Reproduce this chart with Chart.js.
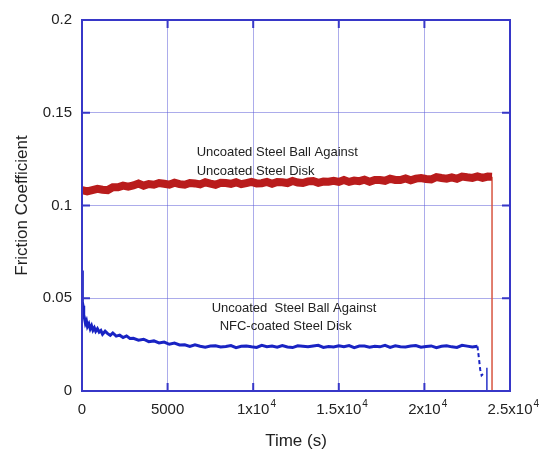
<!DOCTYPE html>
<html>
<head>
<meta charset="utf-8">
<script src="https://cdn.jsdelivr.net/npm/chart.js@4"></script>
<style>
  html, body { margin: 0; padding: 0; background: #fff; }
  #wrap { width: 540px; height: 452px; }
</style>
</head>
<body>
<div id="wrap"><canvas id="frictionChart" width="540" height="452"></canvas></div>
<script>
// friction coefficient vs time, two pin-on-disk runs
const steelTime = [0, 300, 600, 900, 1200, 1500, 1800, 2100, 2400, 2700, 3000, 3300, 3600, 3900, 4200, 4500, 4800, 5100, 5400, 5700,
  6000, 6300, 6600, 6900, 7200, 7500, 7800, 8100, 8400, 8700, 9000, 9300, 9600, 9900, 10200, 10500, 10800, 11100, 11400, 11700,
  12000, 12300, 12600, 12900, 13200, 13500, 13800, 14100, 14400, 14700, 15000, 15300, 15600, 15900, 16200, 16500, 16800, 17100, 17400, 17700,
  18000, 18300, 18600, 18900, 19200, 19500, 19800, 20100, 20400, 20700, 21000, 21300, 21600, 21900, 22200, 22500, 22800, 23100, 23400, 23700, 23950];
const steelFriction = [0.1083, 0.1076, 0.1083, 0.1090, 0.1085, 0.1083, 0.1098, 0.1098, 0.1107, 0.1102, 0.1108, 0.1118, 0.1107, 0.1116, 0.1112, 0.1121, 0.1117, 0.1112, 0.1123, 0.1115,
  0.1112, 0.1121, 0.1119, 0.1114, 0.1125, 0.1118, 0.1112, 0.1123, 0.1121, 0.1117, 0.1125, 0.1115, 0.1121, 0.1127, 0.1119, 0.1120, 0.1127, 0.1117, 0.1127, 0.1125,
  0.1121, 0.1132, 0.1124, 0.1121, 0.1130, 0.1132, 0.1122, 0.1129, 0.1128, 0.1133, 0.1127, 0.1137, 0.1127, 0.1134, 0.1131, 0.1139, 0.1128, 0.1138, 0.1137, 0.1133,
  0.1144, 0.1138, 0.1137, 0.1146, 0.1136, 0.1145, 0.1148, 0.1143, 0.1141, 0.1153, 0.1148, 0.1145, 0.1152, 0.1144, 0.1156, 0.1152, 0.1149, 0.1157, 0.1149, 0.1156, 0.1155];
// end of the uncoated run: trace falls to zero
const steelEndTime = [23950, 23950];
const steelEndFriction = [0.1155, 0];

const nfcTime = [0, 10, 30, 60, 100, 150, 200, 260, 320, 400, 480, 560, 640, 720, 800, 900, 1000, 1100, 1200, 1350,
  1500, 1650, 1800, 2000, 2200, 2400, 2600, 2800, 3000, 3300, 3600, 3900, 4200, 4500, 4800, 5100, 5400, 5700,
  6000, 6300, 6600, 6900, 7200, 7500, 7800, 8100, 8400, 8700, 9000, 9300, 9600, 9900, 10200, 10500, 10800, 11100, 11400, 11700,
  12000, 12300, 12600, 12900, 13200, 13500, 13800, 14100, 14400, 14700, 15000, 15300, 15600, 15900, 16200, 16500, 16800, 17100, 17400, 17700,
  18000, 18300, 18600, 18900, 19200, 19500, 19800, 20100, 20400, 20700, 21000, 21300, 21600, 21900, 22200, 22500, 22800, 23100];
const nfcFriction = [0.065, 0.052, 0.048, 0.046, 0.041, 0.039, 0.0365, 0.0378, 0.0348, 0.0362, 0.0335, 0.0352, 0.0328, 0.0341, 0.0322, 0.0336, 0.0318, 0.0326, 0.0306, 0.0322,
  0.0309, 0.0300, 0.0313, 0.0296, 0.0301, 0.0288, 0.0297, 0.0283, 0.0284, 0.0274, 0.0279, 0.0266, 0.0270, 0.0259, 0.0264, 0.0252, 0.0258, 0.0248,
  0.0249, 0.0240, 0.0249, 0.0241, 0.0236, 0.0242, 0.0244, 0.0237, 0.0240, 0.0245, 0.0234, 0.0241, 0.0243, 0.0238, 0.0235, 0.0246, 0.0239, 0.0242, 0.0236, 0.0245,
  0.0237, 0.0234, 0.0244, 0.0241, 0.0238, 0.0243, 0.0246, 0.0235, 0.0240, 0.0237, 0.0244, 0.0239, 0.0245, 0.0234, 0.0242, 0.0243, 0.0236, 0.0241, 0.0238, 0.0246,
  0.0235, 0.0244, 0.0239, 0.0237, 0.0242, 0.0245, 0.0236, 0.0240, 0.0243, 0.0234, 0.0241, 0.0244, 0.0238, 0.0235, 0.0246, 0.0242, 0.0237, 0.0241];
// coated run break-off (dashed) and final drop
const nfcDropTime = [23100, 23180, 23260, 23340, 23420];
const nfcDropFriction = [0.0241, 0.018, 0.0115, 0.0085, 0.0092];
const nfcEndTime = [23650, 23650];
const nfcEndFriction = [0.0125, 0];

// x labels: mantissa part and superscript exponent
const xTickValues = [0, 5000, 10000, 15000, 20000, 25000];
const xTickBase = ["0", "5000", "1x10", "1.5x10", "2x10", "2.5x10"];
const xTickExp = ["", "", "4", "4", "4", "4"];
const yTickValues = [0, 0.05, 0.1, 0.15, 0.2];
const yTickLabels = ["0", "0.05", "0.1", "0.15", "0.2"];

// text notes placed in data units
const noteLines = ["Uncoated Steel Ball Against", "Uncoated Steel Disk", "Uncoated  Steel Ball Against", "NFC-coated Steel Disk"];
const noteTime = [6700, 6700, 7575, 8040];
const noteFriction = [0.1288, 0.1186, 0.0447, 0.0350];

const FONT = "'Liberation Sans', Arial, sans-serif";
const FRAME = "rgb(55,55,200)";

function toPoints(xs, ys) {
  return xs.map((x, i) => ({ x: x, y: ys[i] }));
}

// frame box with inward tick marks on all four sides, notes and x labels
const framePlugin = {
  id: "frame",
  afterDatasetsDraw(chart) {
    const { ctx, chartArea: a, scales } = chart;
    ctx.save();
    ctx.strokeStyle = FRAME;
    ctx.lineWidth = 2;
    ctx.strokeRect(a.left, a.top, a.right - a.left, a.bottom - a.top);
    ctx.beginPath();
    xTickValues.forEach((v) => {
      const px = scales.x.getPixelForValue(v);
      ctx.moveTo(px, a.bottom); ctx.lineTo(px, a.bottom - 8);
      ctx.moveTo(px, a.top); ctx.lineTo(px, a.top + 8);
    });
    yTickValues.forEach((v) => {
      const py = scales.y.getPixelForValue(v);
      ctx.moveTo(a.left, py); ctx.lineTo(a.left + 8, py);
      ctx.moveTo(a.right, py); ctx.lineTo(a.right - 8, py);
    });
    ctx.stroke();

    ctx.fillStyle = "#222";
    ctx.font = "13px " + FONT;
    ctx.textBaseline = "middle";
    ctx.textAlign = "left";
    noteLines.forEach((t, i) => {
      ctx.fillText(t, scales.x.getPixelForValue(noteTime[i]), scales.y.getPixelForValue(noteFriction[i]));
    });

    // x tick labels, mantissa centred on the grid line, exponent raised
    const labelY = a.bottom + 19;
    xTickValues.forEach((v, i) => {
      const px = scales.x.getPixelForValue(v);
      ctx.font = "15px " + FONT;
      ctx.textAlign = "center";
      ctx.fillText(xTickBase[i], px, labelY);
      if (xTickExp[i]) {
        const w = ctx.measureText(xTickBase[i]).width;
        ctx.font = "10px " + FONT;
        ctx.textAlign = "left";
        ctx.fillText(xTickExp[i], px + w / 2 + 1, labelY - 6);
      }
    });
    ctx.restore();
  }
};

const whiteBg = {
  id: "whiteBg",
  beforeDraw(chart) {
    const ctx = chart.ctx;
    ctx.save();
    ctx.fillStyle = "#fff";
    ctx.fillRect(0, 0, chart.width, chart.height);
    ctx.restore();
  }
};

const ctx = document.getElementById("frictionChart").getContext("2d");

new Chart(ctx, {
  type: "line",
  data: {
    datasets: [
      {
        label: "Uncoated steel disk",
        data: toPoints(steelTime, steelFriction),
        borderColor: "rgb(185,28,28)",
        borderWidth: 8,
        pointRadius: 0,
        tension: 0,
      },
      {
        label: "Uncoated end",
        data: toPoints(steelEndTime, steelEndFriction),
        borderColor: "rgb(215,85,65)",
        borderWidth: 1.5,
        pointRadius: 0,
      },
      {
        label: "NFC-coated steel disk",
        data: toPoints(nfcTime, nfcFriction),
        borderColor: "rgb(25,35,195)",
        borderWidth: 3,
        pointRadius: 0,
        tension: 0,
      },
      {
        label: "NFC break-off",
        data: toPoints(nfcDropTime, nfcDropFriction),
        borderColor: "rgb(25,35,195)",
        borderWidth: 2,
        borderDash: [4, 3],
        pointRadius: 0,
      },
      {
        label: "NFC end",
        data: toPoints(nfcEndTime, nfcEndFriction),
        borderColor: "rgb(40,50,200)",
        borderWidth: 1.5,
        pointRadius: 0,
      },
    ],
  },
  options: {
    responsive: false,
    animation: false,
    layout: { padding: { left: 0, top: 20, right: 30, bottom: 0 } },
    plugins: {
      legend: { display: false },
      tooltip: { enabled: false },
    },
    scales: {
      x: {
        type: "linear",
        min: 0,
        max: 25000,
        afterBuildTicks: (s) => { s.ticks = xTickValues.map((v) => ({ value: v })); },
        afterFit: (s) => { s.height = 61; s.paddingLeft = 0; s.paddingRight = 0; },
        ticks: { display: false },
        grid: { color: "rgba(90,90,215,0.5)", lineWidth: 1, drawTicks: false },
        border: { display: false },
        title: {
          display: true,
          text: "Time (s)",
          color: "#222",
          font: { family: FONT, size: 17 },
          padding: { top: 0, bottom: 0 },
        },
      },
      y: {
        type: "linear",
        min: 0,
        max: 0.2,
        afterBuildTicks: (s) => { s.ticks = yTickValues.map((v) => ({ value: v })); },
        afterFit: (s) => { s.width = 82; s.paddingTop = 0; s.paddingBottom = 0; },
        ticks: {
          padding: 10,
          color: "#222",
          font: { family: FONT, size: 15 },
          callback: (v) => yTickLabels[yTickValues.indexOf(v)],
        },
        grid: { color: "rgba(90,90,215,0.5)", lineWidth: 1, drawTicks: false },
        border: { display: false },
        title: {
          display: true,
          text: "Friction Coefficient",
          color: "#222",
          font: { family: FONT, size: 17 },
          padding: { top: 12, bottom: 0 },
        },
      },
    },
  },
  plugins: [whiteBg, framePlugin],
});
</script>
</body>
</html>
